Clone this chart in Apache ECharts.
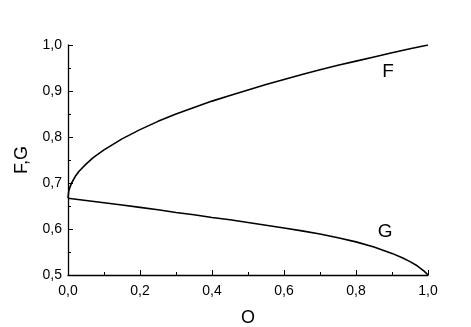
<!DOCTYPE html>
<html>
<head>
<meta charset="utf-8">
<script src="https://cdn.jsdelivr.net/npm/echarts@6/dist/echarts.min.js"></script>
<style>
    html, body {margin: 0; padding: 0; background: #fff;}
    #chart {width: 471px; height: 327px;}
</style>
</head>
<body>
<div id="chart"></div>
<script>
//data
var fX = [0, 0.002, 0.005, 0.01, 0.02, 0.03, 0.05, 0.07, 0.1, 0.15, 0.2, 0.25, 0.3, 0.35, 0.4, 0.45, 0.5, 0.55, 0.6, 0.65, 0.7, 0.75, 0.8, 0.85, 0.9, 0.95, 1.0];
var fY = [0.667, 0.682, 0.690, 0.700, 0.714, 0.725, 0.741, 0.755, 0.772, 0.796, 0.816, 0.834, 0.850, 0.864, 0.878, 0.890, 0.902, 0.914, 0.925, 0.936, 0.946, 0.956, 0.965, 0.974, 0.983, 0.992, 1.000];
var gX = [0, 0.05, 0.1, 0.15, 0.2, 0.25, 0.3, 0.35, 0.4, 0.45, 0.5, 0.55, 0.6, 0.65, 0.7, 0.75, 0.8, 0.85, 0.9, 0.93, 0.95, 0.97, 0.98, 0.99, 0.995, 1.0];
var gY = [0.667, 0.662, 0.657, 0.652, 0.647, 0.642, 0.636, 0.631, 0.625, 0.620, 0.614, 0.608, 0.602, 0.596, 0.589, 0.581, 0.572, 0.561, 0.547, 0.537, 0.529, 0.520, 0.514, 0.508, 0.504, 0.500];
var curveNames = ['F', 'G'];
var labelPos = [[0.889, 0.941], [0.881, 0.593]];

var pairs = function (xs, ys) {
    return xs.map(function (x, i) { return [x, ys[i]]; });
};
var comma = function (v) {
    return v.toFixed(1).replace('.', ',');
};
var font = 'Liberation Sans, Arial, sans-serif';

var axisCommon = {
    axisLine: {onZero: false, lineStyle: {color: '#000', width: 1.3}},
    axisTick: {inside: true, length: 5, lineStyle: {color: '#000', width: 1}},
    minorTick: {show: true, splitNumber: 2, length: 3, lineStyle: {color: '#000', width: 1}},
    splitLine: {show: false},
    axisLabel: {color: '#000', fontFamily: font, fontSize: 14, formatter: comma},
    nameTextStyle: {color: '#000', fontFamily: font, fontSize: 18}
};

var makeSeries = function (name, xs, ys, pos) {
    return {
        name: name,
        type: 'line',
        data: pairs(xs, ys),
        showSymbol: false,
        smooth: false,
        lineStyle: {color: '#000', width: 1.6},
        silent: true,
        markPoint: {
            symbol: 'circle',
            symbolSize: 0,
            data: [{coord: pos}],
            label: {
                show: true,
                formatter: name,
                color: '#000',
                fontFamily: font,
                fontSize: 19
            }
        }
    };
};

var chart = echarts.init(document.getElementById('chart'));
chart.setOption({
    animation: false,
    grid: {left: 68, right: 43, top: 45, bottom: 52, outerBoundsMode: 'none'},
    xAxis: Object.assign({}, axisCommon, {
        type: 'value',
        min: 0,
        max: 1,
        interval: 0.2,
        name: 'O',
        nameLocation: 'middle',
        nameGap: 34,
        axisLabel: Object.assign({}, axisCommon.axisLabel, {margin: 9})
    }),
    yAxis: Object.assign({}, axisCommon, {
        type: 'value',
        min: 0.5,
        max: 1,
        interval: 0.1,
        name: 'F,G',
        nameLocation: 'middle',
        nameGap: 37,
        axisLabel: Object.assign({}, axisCommon.axisLabel, {margin: 6})
    }),
    series: [
        makeSeries(curveNames[0], fX, fY, labelPos[0]),
        makeSeries(curveNames[1], gX, gY, labelPos[1])
    ]
});
</script>
</body>
</html>
